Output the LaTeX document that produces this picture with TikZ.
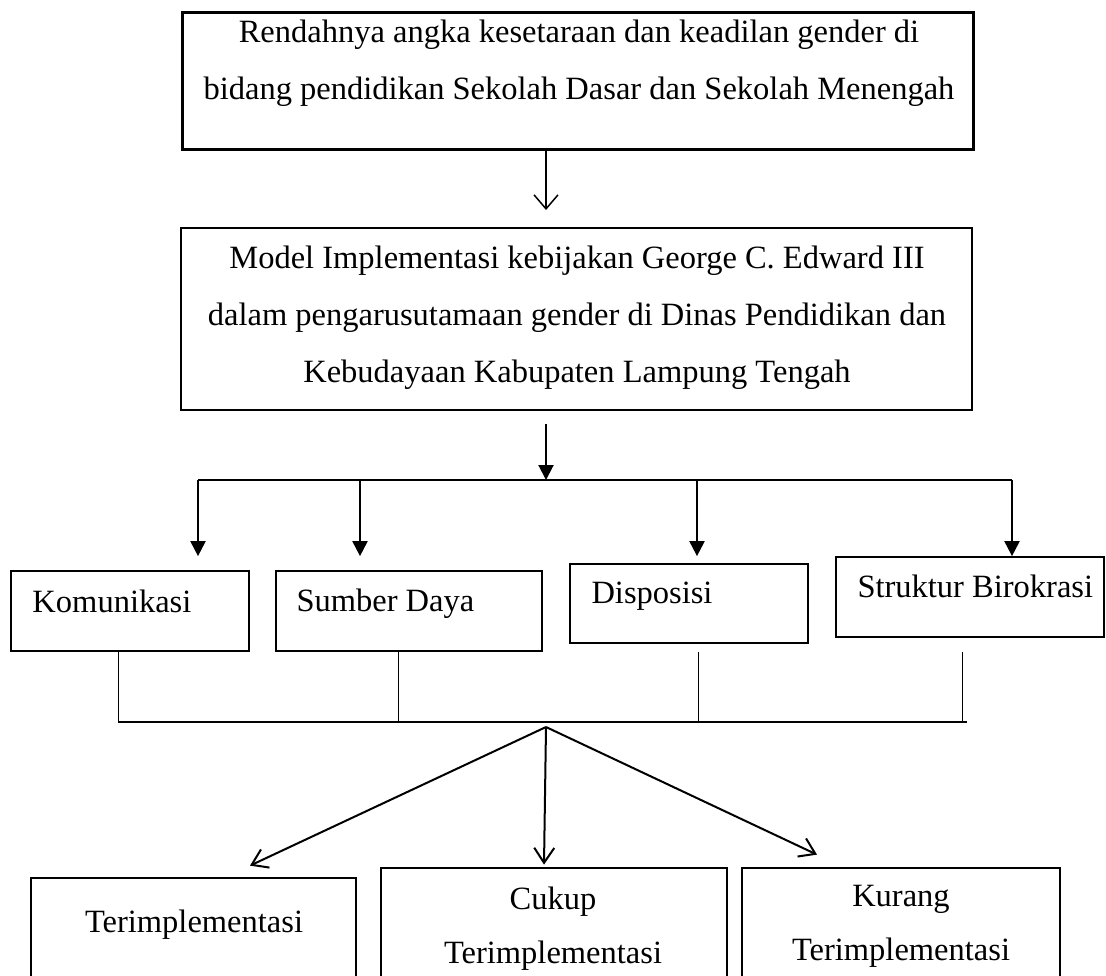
\documentclass[tikz,border=0pt]{standalone}
\usepackage{fontspec}
\setmainfont{Liberation Serif}
\usetikzlibrary{arrows.meta}

\begin{document}
\begin{tikzpicture}[x=0.4pt,y=-0.4pt]
  \tikzset{box/.style={draw,rectangle,inner sep=0pt,line width=#1},
    boxtext/.style={font=\fontsize{13pt}{22.8pt}\selectfont,inner sep=0pt},
    fat arrow/.style={line width=0.8pt,-{Triangle[length=6pt,width=6pt]}},
    thin arrow/.style={line width=0.6pt,-{Straight Barb[length=5.6pt,width=9.6pt]}},
    open arrow/.style={line width=0.8pt,-{Straight Barb[length=6pt,width=8pt]}},
    joint/.style={line width=0.4pt}}

  \clip (0,0) rectangle (1106,975);

  % masalah dan model
  \node [box=1.2pt,minimum width=316pt,minimum height=54.8pt] (masalah) at (578,80.5) {};
  \node [boxtext,align=center,anchor=north] (masalahtxt) at (579,19)
    {Rendahnya angka kesetaraan dan keadilan gender di\\bidang pendidikan Sekolah Dasar dan Sekolah Menengah};
  \node [box=0.8pt,minimum width=316.4pt,minimum height=72.8pt] (model) at (576.5,319) {};
  \node [boxtext,align=center,anchor=north] (modeltxt) at (577,245)
    {Model Implementasi kebijakan George C. Edward III\\dalam pengarusutamaan gender di Dinas Pendidikan dan\\Kebudayaan Kabupaten Lampung Tengah};

  % empat variabel
  \node [box=0.7pt,minimum width=95.2pt,minimum height=32pt] (kom) at (130,611) {};
  \node [box=0.7pt,minimum width=106.4pt,minimum height=32pt] (sd) at (409,611) {};
  \node [box=0.7pt,minimum width=95.2pt,minimum height=31.6pt] (disp) at (689,603.5) {};
  \node [box=0.7pt,minimum width=107.2pt,minimum height=32pt] (sb) at (970,597) {};
  \node [boxtext,anchor=base west] (komtxt) at (32,612) {Komunikasi};
  \node [boxtext,anchor=base west] (sdtxt) at (296,611) {Sumber Daya};
  \node [boxtext,anchor=base west] (disptxt) at (591,603) {Disposisi};
  \node [boxtext,anchor=base west] (sbtxt) at (857,597) {Struktur Birokrasi};

  % hasil
  \node [box=1.1pt,minimum width=130pt,minimum height=48.8pt] (hasil1) at (193.5,939) {};
  \node [box=1.1pt,minimum width=138.4pt,minimum height=52.8pt] (hasil2) at (554,934) {};
  \node [box=1.1pt,minimum width=127.2pt,minimum height=52.8pt] (hasil3) at (901,934) {};
  \node [boxtext,anchor=base] (hasil1txt) at (194,932) {Terimplementasi};
  \node [boxtext,align=center,anchor=north,font=\fontsize{13pt}{21.6pt}\selectfont] (hasil2txt) at (553,886) {Cukup\\Terimplementasi};
  \node [boxtext,align=center,anchor=north,font=\fontsize{13pt}{21.6pt}\selectfont] (hasil3txt) at (901,885) {Kurang\\Terimplementasi};

  % titik cabang
  \coordinate (pecah) at (546,480);
  \coordinate (gabung) at (546,727);
  \coordinate (cabang1) at (198,480);
  \coordinate (cabang2) at (360,480);
  \coordinate (cabang3) at (697,480);
  \coordinate (cabang4) at (1012,480);
  \coordinate (temu1) at (118,722);
  \coordinate (temu2) at (398,722);
  \coordinate (temu3) at (698,722);
  \coordinate (temu4) at (962,722);

  \draw [thin arrow,shorten >=6.8pt] (masalah.south -| pecah) -- (model.north -| pecah);
  \draw [fat arrow,shorten <=5.2pt] (model.south -| pecah) -- (pecah);
  \draw [line width=0.8pt] (cabang1) -- (cabang4);
  \draw [fat arrow,shorten >=5.6pt] (cabang1) -- (cabang1 |- kom.north);
  \draw [fat arrow,shorten >=5.6pt] (cabang2) -- (cabang2 |- sd.north);
  \draw [fat arrow,shorten >=2.8pt] (cabang3) -- (cabang3 |- disp.north);
  \draw [fat arrow] (cabang4) -- (cabang4 |- sb.north);

  \draw [joint] (temu1 |- kom.south) -- (temu1);
  \draw [joint] (temu2 |- sd.south) -- (temu2);
  \draw [joint,shorten <=3.2pt] (temu3 |- disp.south) -- (temu3);
  \draw [joint,shorten <=5.6pt] (temu4 |- sb.south) -- (temu4);
  \draw [line width=0.5pt] (temu1) -- ([xshift=2pt]temu4);

  \draw [open arrow] (gabung) -- ([xshift=22.6pt,yshift=4.4pt]hasil1.north);
  \draw [open arrow] (gabung) -- ([xshift=-4pt,yshift=0.8pt]hasil2.north);
  \draw [open arrow] (gabung) -- ([xshift=-33.6pt,yshift=4.8pt]hasil3.north);
\end{tikzpicture}
\end{document}
